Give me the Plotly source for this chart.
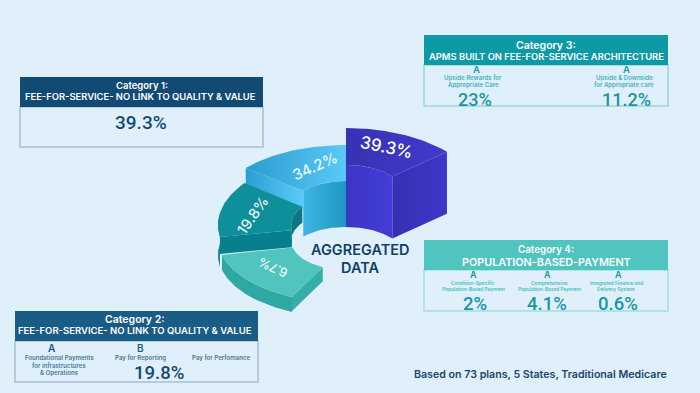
import numpy as np
import plotly.graph_objects as go

# ---- chart values ----
slice_values = ["39.3%", "34.2%", "19.8%", "6.7%"]
# The reference artwork is not drawn to scale: these are the slice angles read off
# the picture (degrees clockwise from the top of the ring), not derived from the shares.
slice_start_deg = [0, -51, -100, -103]
slice_end_deg = [48.4, 0, -52.6, -154.9]

cat1_title = ["Category 1:", "FEE-FOR-SERVICE- NO LINK TO QUALITY & VALUE"]
cat1_value = "39.3%"
cat2_title = ["Category 2:", "FEE-FOR-SERVICE- NO LINK TO QUALITY & VALUE"]
cat2_letters = ["A", "B"]
cat2_items = ["Foundational Payments", "for infrastructures", "& Operations", "Pay for Reporting", "Pay for Perfomance"]
cat2_value = "19.8%"
cat3_title = ["Category 3:", "APMS BUILT ON FEE-FOR-SERVICE ARCHITECTURE"]
cat3_items = ["Upside Rewards for", "Appropriate Care", "Upside & Downside", "for Appropriate care"]
cat3_values = ["23%", "11.2%"]
cat4_title = ["Category 4:", "POPULATION-BASED-PAYMENT"]
cat4_items = ["Condition-Specific", "Population-Based Payment", "Comprehensive", "Population-Based Payment",
              "Integrated Finance and", "Delivery System"]
cat4_values = ["2%", "4.1%", "0.6%"]
center_label = ["AGGREGATED", "DATA"]
footer = "Based on 73 plans, 5 States, Traditional Medicare"

# ---- styling / layout ----
W, H = 700, 393
BG = "#E0F0FB"
FONT = "Inter"
NUM = "Roboto"
NAVY = "#124A73"
CX = 346
RING = [
    dict(cy=199, rx=135, ry=71, ix=62, iy=34),
    dict(cy=207, rx=129, ry=62, ix=55, iy=26),
    dict(cy=225, rx=128, ry=69, ix=55, iy=30),
    dict(cy=241, rx=127.3, ry=61.8, ix=54.8, iy=28.9),
]


def arc(g, a0, a1, outer=True, dz=0):
    t = np.radians(np.linspace(a0, a1, 50))
    rx, ry = (g["rx"], g["ry"]) if outer else (g["ix"], g["iy"])
    return CX + rx * np.sin(t), g["cy"] - ry * np.cos(t) + dz


fig = go.Figure()


def poly(x, y, color, grad=None):
    kw = dict(fillcolor=color)
    if grad:
        kw = dict(fillgradient=dict(type="horizontal", colorscale=[[0, grad[0]], [1, grad[1]]]))
    fig.add_trace(go.Scatter(x=list(x), y=list(y), mode="lines", fill="toself",
                             line=dict(width=0), hoverinfo="skip", showlegend=False, **kw))


def wall(g, a0, a1, outer, depth, color, grad=None):
    x, y = arc(g, a0, a1, outer)
    x2, y2 = arc(g, a1, a0, outer, depth)
    poly(np.r_[x, x2], np.r_[y, y2], color, grad)


def cut(g, a, depth, color, grad=None):
    xo, yo = arc(g, a, a, True)
    xi, yi = arc(g, a, a, False)
    poly([xo[0], xi[0], xi[0], xo[0]], [yo[0], yi[0], yi[0] + depth, yo[0] + depth], color, grad)


def top(g, a0, a1, color, grad=None):
    xo, yo = arc(g, a0, a1, True)
    xi, yi = arc(g, a1, a0, False)
    poly(np.r_[xo, xi], np.r_[yo, yi], color, grad)


# Blue slice
g = RING[0]
wall(g, slice_start_deg[0], slice_end_deg[0], False, 62, "#3F3BD2", ("#3B37C4", "#423CDA"))
cut(g, slice_end_deg[0], 62, "#3833BC", ("#3531B4", "#3C37C8"))
top(g, slice_start_deg[0], slice_end_deg[0], "#3B37BE", ("#3733B4", "#3F3ACB"))
# Cyan slice
g = RING[1]
wall(g, slice_start_deg[1], slice_end_deg[1], False, 46, "#2BA7D4", ("#3DB6E2", "#1E97C4"))
cut(g, slice_start_deg[1], 18, "#3DB4E8", ("#2A9DD0", "#5CCBF8"))
top(g, slice_start_deg[1], slice_end_deg[1], "#3FB2E2", ("#2A9CCF", "#5AC9F7"))
# Teal slice
g = RING[2]
wall(g, slice_end_deg[2], slice_start_deg[2], False, 16, "#0A7783")
wall(g, -80, slice_start_deg[2], True, 30, "#07808C")
cut(g, slice_start_deg[2], 17, "#07808E")
top(g, slice_start_deg[2], slice_end_deg[2], "#0F8F99")
# Light teal slice
g = RING[3]
wall(g, slice_start_deg[3], slice_end_deg[3], True, 15, "#2FA7A2")
cut(g, slice_end_deg[3], 14, "#35ADA8")
top(g, slice_start_deg[3], slice_end_deg[3], "#52C4BE")

shapes, notes = [], []


def box(x0, x1, y0, y1, y2, color, border):
    shapes.append(dict(type="rect", x0=x0, x1=x1, y0=y1, y1=y2, fillcolor="rgba(0,0,0,0)",
                       line=dict(color=border, width=1.5), layer="below"))
    shapes.append(dict(type="rect", x0=x0, x1=x1, y0=y0, y1=y1, fillcolor=color,
                       line=dict(width=0), layer="below"))


def text(s, x, y, size, color, weight=400, angle=0, anchor="center", family=FONT):
    notes.append(dict(text=s, x=x, y=y, showarrow=False, xanchor=anchor, yanchor="middle",
                      borderpad=0, borderwidth=0, textangle=angle,
                      font=dict(family=family, size=size, color=color, weight=weight)))


box(20, 263, 77, 107, 147, NAVY, "#A9BDD0")
box(15, 258, 311, 341, 382, "#195C86", "#A9BDD0")
box(424, 668, 35, 65, 106, "#0E99A6", "#9BD3DF")
box(424, 668, 240, 270, 311, "#50C4BE", "#A3DDE0")

WHITE = "#FFFFFF"
text(cat1_title[0], 141.5, 85, 9.5, WHITE, 600)
text(cat1_title[1], 140, 96.5, 9.4, WHITE, 600)
text(cat1_value, 141, 122, 19, NAVY, 500, family=NUM)

text(cat2_title[0], 135, 319.5, 10.5, WHITE, 600)
text(cat2_title[1], 135, 330.5, 9.5, WHITE, 600)
C2 = "#4A7898"
text(cat2_letters[0], 52, 348, 10, "#195C86", 600)
text(cat2_letters[1], 140, 348, 10, "#195C86", 600)
text(cat2_items[0], 59, 357.5, 6.1, C2, 600)
text(cat2_items[1], 59, 365, 6.1, C2, 600)
text(cat2_items[2], 59, 372.5, 6.1, C2, 600)
text(cat2_items[3], 140, 357.5, 6.1, C2, 600)
text(cat2_items[4], 221, 357.5, 6.1, C2, 600)
text(cat2_value, 159, 373, 18.5, NAVY, 500, family=NUM)

text(cat3_title[0], 546, 45, 10.5, WHITE, 600)
text(cat3_title[1], 546, 56, 9.4, WHITE, 600)
C3 = "#1597A4"
C3L = "#4AB0BC"
text("A", 476, 69, 9.5, C3, 600)
text("A", 626, 69, 9.5, C3, 600)
text(cat3_items[0], 473, 77.5, 6.1, C3L, 600)
text(cat3_items[1], 473, 84.5, 6.1, C3L, 600)
text(cat3_items[2], 624, 77.5, 6.1, C3L, 600)
text(cat3_items[3], 624, 84.5, 6.1, C3L, 600)
text(cat3_values[0], 475, 99, 18, C3, 500, family=NUM)
text(cat3_values[1], 626, 99, 18, C3, 500, family=NUM)

text(cat4_title[0], 546, 249.5, 9.8, WHITE, 600)
text(cat4_title[1], 546, 262, 10.8, WHITE, 600)
C4 = "#1597A4"
C4L = "#45BDBD"
for x, i in zip((473, 549, 616), (0, 2, 4)):
    text(cat4_items[i], x, 283, 4.8, C4L, 600)
    text(cat4_items[i + 1], x, 289, 4.8, C4L, 600)
for x in (473, 547, 618):
    text("A", x, 274, 9, C4, 600)
for x, v in zip((475, 547, 618), cat4_values):
    text(v, x, 304, 18.5, C4, 500, family=NUM)

text(slice_values[0], 386, 147, 17, WHITE, 500, 12)
text(slice_values[1], 314, 166, 15, "#E8F8FE", 500, -24)
text(slice_values[2], 252, 215, 14.5, "#E6F6F6", 500, -55)
text(slice_values[3], 273, 268, 12.5, "#F0FBFA", 500, -155)

text(center_label[0], 360, 249, 14.5, "#123F66", 600)
text(center_label[1], 360, 267, 14.5, "#123F66", 600)
text(footer, 414, 374, 10.65, "#1B4670", 600, anchor="left")

fig.update_layout(
    width=W, height=H, margin=dict(l=0, r=0, t=0, b=0),
    paper_bgcolor=BG, plot_bgcolor=BG, showlegend=False,
    xaxis=dict(range=[0, W], visible=False, fixedrange=True),
    yaxis=dict(range=[H, 0], visible=False, fixedrange=True),
    shapes=shapes, annotations=notes,
)
fig.write_html("out.html", config=dict(displayModeBar=False),
               post_script=f"document.body.style.margin='0';document.body.style.overflow='hidden';document.body.style.background='{BG}';")
